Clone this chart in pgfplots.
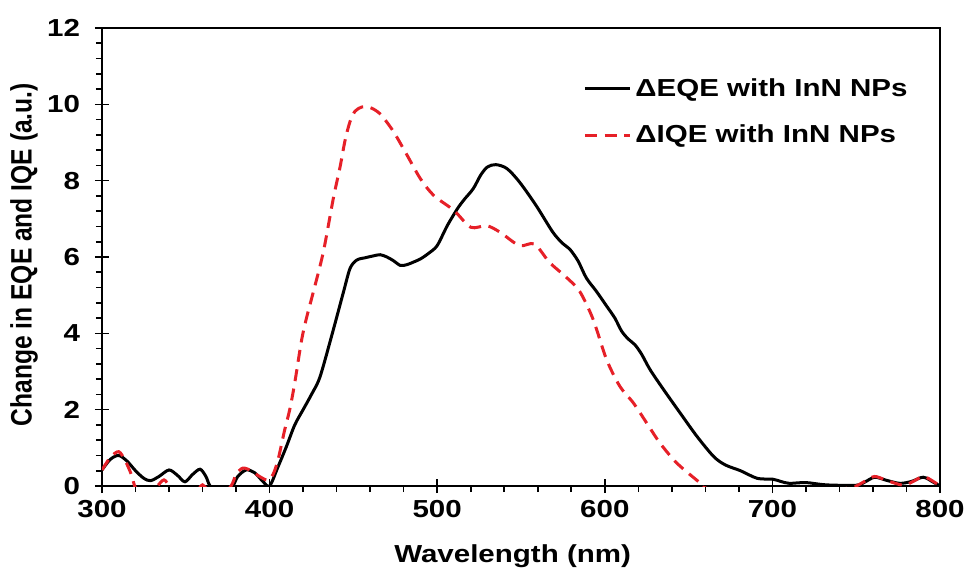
\documentclass[border=0pt]{standalone}
\usepackage{graphicx}
\usepackage{pgfplots}
\pgfplotsset{compat=1.18}
\usepackage{fontspec}
\setmainfont{Liberation Sans}[FakeStretch=1.2]
\newfontfamily\plainfont{Liberation Sans}
\definecolor{myred}{RGB}{230,32,40}
\newcommand{\chartfont}{\bfseries\fontsize{12.3}{14}\selectfont}
\begin{document}
\begin{tikzpicture}
\begin{axis}[
  scale only axis, width=419pt, height=229pt,
  xmin=300, xmax=800, ymin=0, ymax=12,
  xtick={300,400,...,800}, ytick={0,2,...,12},
  minor x tick num=4, minor y tick num=4,
  axis line style={line width=1pt},
  tick style={black, line width=0.8pt},
  tick align=center, major tick length=7pt, minor tick length=3pt,
  minor x tick style={yshift=-1.5pt},
  minor y tick style={xshift=-1.5pt},
  xtick pos=bottom, ytick pos=left,
  font=\chartfont,
  /pgf/number format/assume math mode=true,
  ticklabel style={font=\chartfont},
  yticklabel style={xshift=-4pt},
  xlabel={Wavelength (nm)},
  ylabel={\scalebox{1}[1.2]{\plainfont\bfseries Change in EQE and IQE (a.u.)}},
  xlabel style={at={(axis description cs:0.49,-0.153)}, anchor=center},
  ylabel style={at={(axis description cs:-0.093,0.505)}, anchor=center},
  legend style={at={(axis description cs:0.574,0.90)}, anchor=north west, draw=none, fill=none,
    font=\chartfont, row sep=9pt, inner sep=0pt},
  legend cell align=left,
  legend image code/.code={\draw[#1] (0cm,0cm) -- (22.5pt,0cm);},
]
\addplot[black, line width=1.5pt, smooth, tension=0.5] coordinates {
(300,0.42) (305,0.7) (310,0.8) (315,0.65) (320,0.4) (325,0.2) (329,0.14) (334,0.25) (340,0.42) (345,0.28) (349.5,0.11) (354,0.3) (358.5,0.44) (362,0.25) (364.5,0) (371,-0.3) (378,0) (381,0.25) (386,0.42) (391,0.35) (396,0.12) (400,0) (405,0.5) (410,1.03) (415,1.6) (420,2.0) (425,2.4) (430,2.85) (437,3.93) (444,5.07) (448,5.7) (452,5.92) (457,5.98) (462,6.03) (466,6.06) (470,6.0) (474,5.9) (478,5.78) (482,5.8) (486,5.87) (490,5.95) (495,6.1) (500,6.3) (506,6.82) (512,7.26) (516,7.5) (521.5,7.79) (526,8.15) (530,8.36) (535,8.42) (541.5,8.32) (549,7.97) (559,7.35) (569,6.65) (575,6.35) (579,6.21) (584,5.9) (589,5.45) (595,5.1) (601,4.72) (606,4.4) (610,4.06) (614,3.85) (618,3.7) (622,3.45) (627,3.05) (635,2.53) (645,1.91) (655,1.3) (665,0.77) (672,0.55) (681,0.4) (691,0.2) (700,0.18) (705,0.12) (710,0.07) (720,0.09) (732,0.03) (750,0.02) (755,0.1) (761,0.23) (768,0.15) (776,0.07) (783,0.12) (790,0.23) (796,0.1) (800,0)
};
\addlegendentry{ΔEQE with InN NPs}
\addplot[myred, line width=1.5pt, dash pattern=on 6pt off 3.8pt, smooth, tension=0.5] coordinates {
(300,0.42) (305,0.75) (310,0.9) (314,0.65) (317.5,0.3) (320,-0.05) (325,-0.3) (332,-0.05) (337,0.16) (341,-0.05) (350,-0.4) (358,-0.05) (360,0.03) (362,-0.05) (370,-0.3) (377,0) (380,0.3) (384,0.47) (389,0.4) (394,0.25) (399,0.15) (402,0.3) (405,0.68) (409,1.47) (412,2.0) (415,2.7) (419,3.8) (422,4.4) (426,5.07) (432,6.12) (438,7.53) (442,8.35) (445,9.05) (448,9.55) (451,9.82) (455,9.93) (459,9.93) (463,9.85) (467,9.7) (474,9.28) (482,8.67) (490,8.05) (498,7.61) (510,7.22) (520,6.78) (529.5,6.82) (537.5,6.65) (549,6.3) (558,6.34) (567,5.86) (577,5.47) (585,5.1) (593,4.37) (601,3.32) (609,2.61) (617,2.18) (625,1.65) (633,1.12) (643,0.6) (656,0.11) (660,-0.05) (700,-0.5) (745,-0.05) (750,0) (755,0.12) (761,0.25) (768,0.15) (778,0.02) (784,0.12) (790,0.25) (796,0.12) (800,0)
};
\addlegendentry{ΔIQE with InN NPs}
\end{axis}
\pgfresetboundingbox
\path ([shift={(-51pt,-41.5pt)}]current axis.south west) rectangle ([shift={(12pt,14pt)}]current axis.north east);
\end{tikzpicture}
\end{document}
